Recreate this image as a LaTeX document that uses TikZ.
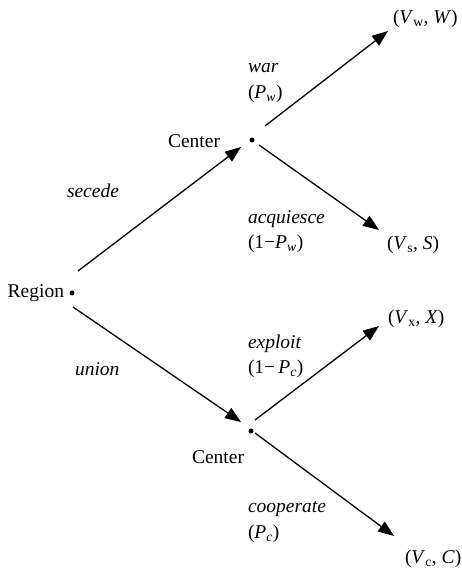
\documentclass[tikz,border=0pt]{standalone}
\usepackage{fontspec}
\setmainfont{Liberation Serif}
\usetikzlibrary{arrows.meta}
\newcommand{\ti}[1]{\textit{#1}}
\begin{document}
\begin{tikzpicture}[x=1pt,y=-1pt,
  every node/.style={font=\fontsize{19.5}{22}\selectfont, inner sep=0pt, outer sep=0pt},
  dotnode/.style={circle, fill=black, minimum size=5pt, inner sep=0pt},
  lbl/.style={anchor=base west},
  br/.style={-{Triangle[length=16pt,width=12pt]}, line width=1.3pt}]
\useasboundingbox (0,0) rectangle (462,571);
% dots
\node[dotnode] (R) at (72,293) {};
\node[dotnode] (C1) at (252,140) {};
\node[dotnode] (C2) at (251,431) {};
% player labels
\node[anchor=base east] (Rl) at (64,297) {Region};
\node[anchor=base east] (C1l) at (220,147) {Center};
\node[anchor=base east] (C2l) at (244,463) {Center};
% coordinates for connectors
\coordinate (s1) at (78,271); \coordinate (t1) at (241,147);
\coordinate (s2) at (73,307); \coordinate (t2) at (241,422);
\coordinate (s3) at (265,126); \coordinate (t3) at (388,31);
\coordinate (s4) at (259,145); \coordinate (t4) at (379,230);
\coordinate (s5) at (255,420); \coordinate (t5) at (379,326);
\coordinate (s6) at (255,433); \coordinate (t6) at (394,536);
\draw[br] (s1) -- (t1);
\draw[br] (s2) -- (t2);
\draw[br] (s3) -- (t3);
\draw[br] (s4) -- (t4);
\draw[br] (s5) -- (t5);
\draw[br] (s6) -- (t6);
% action labels
\node[lbl] (sec) at (67,197) {\ti{secede}};
\node[lbl] (uni) at (75,375) {\ti{union}};
\node[lbl] (war) at (248,72) {\ti{war}};
\node[lbl] (pw) at (248,98) {(\ti{P}\textsubscript{\ti{w}})};
\node[lbl] (acq) at (248,223) {\ti{acquiesce}};
\node[lbl] (pw2) at (248,248) {(1−\ti{P}\textsubscript{\ti{w}})};
\node[lbl] (exp) at (248,348) {\ti{exploit}};
\node[lbl] (pc2) at (248,373) {(1−\,\ti{P}\textsubscript{\ti{c}})};
\node[lbl] (coo) at (248,512) {\ti{cooperate}};
\node[lbl] (pc) at (248,538) {(\ti{P}\textsubscript{\ti{c}})};
% outcomes
\node[lbl] (ow) at (393,23) {(\ti{V}\textsubscript{w}, \ti{W})};
\node[lbl] (os) at (387,249) {(\ti{V}\textsubscript{s}, \ti{S})};
\node[lbl] (ox) at (388,323) {(\ti{V}\textsubscript{x}, \ti{X})};
\node[lbl] (oc) at (405,563) {(\ti{V}\textsubscript{c}, \ti{C})};
\end{tikzpicture}
\end{document}
